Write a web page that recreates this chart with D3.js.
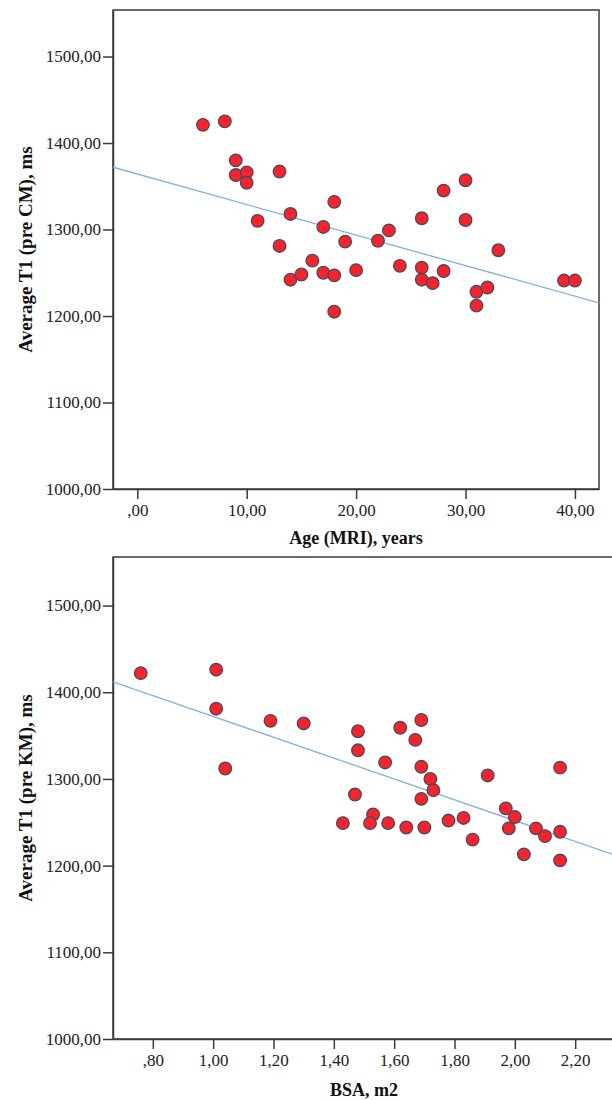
<!DOCTYPE html>
<html>
<head>
<meta charset="utf-8">
<script src="https://cdn.jsdelivr.net/npm/d3@7"></script>
<style>
  html, body { margin: 0; padding: 0; background: #fff; }
  svg { display: block; }
</style>
</head>
<body>
<svg id="chart" width="612" height="1100"></svg>
<script>
// ---------- DATA ----------
// Top panel: Age (MRI), years vs Average T1 (pre CM), ms
const ageValues = [6, 8, 9, 9, 10, 10, 13, 14, 11, 17, 18, 19, 13, 16, 14, 15, 17, 18, 20, 18,
  22, 23, 26, 28, 30, 30, 24, 26, 26, 27, 28, 33, 31, 32, 31, 39, 40];
const t1PreCM = [1421, 1425, 1380, 1363, 1366, 1354, 1367, 1318, 1310, 1303, 1332, 1286, 1281, 1264, 1242, 1248, 1250, 1247, 1253, 1205,
  1287, 1299, 1313, 1345, 1357, 1311, 1258, 1256, 1242, 1238, 1252, 1276, 1228, 1233, 1212, 1241, 1241];

// Bottom panel: BSA, m2 vs Average T1 (pre KM), ms
const bsaValues = [0.76, 1.01, 1.01, 1.04, 1.19, 1.30, 1.48, 1.48, 1.47, 1.43, 1.57, 1.62, 1.69, 1.67, 1.69, 1.72, 1.73, 1.69,
  1.53, 1.52, 1.58, 1.64, 1.70, 1.78, 1.83, 1.86, 1.91, 1.97, 2.00, 1.98, 2.07, 2.10, 2.15, 2.15, 2.03, 2.15];
const t1PreKM = [1422, 1426, 1381, 1312, 1367, 1364, 1355, 1333, 1282, 1249, 1319, 1359, 1368, 1345, 1314, 1300, 1287, 1277,
  1259, 1249, 1249, 1244, 1244, 1252, 1255, 1230, 1304, 1266, 1256, 1243, 1243, 1234, 1239, 1313, 1213, 1206];

// Fit lines (intercept, slope)
const fitAge = [1364.2, -3.53];
const fitBSA = [1492.3, -120.2];

// Tick labels
const yTicks = [1000, 1100, 1200, 1300, 1400, 1500];
const yTickLabels = ["1000,00", "1100,00", "1200,00", "1300,00", "1400,00", "1500,00"];
const ageTicks = [0, 10, 20, 30, 40];
const ageTickLabels = [",00", "10,00", "20,00", "30,00", "40,00"];
const bsaTicks = [0.8, 1.0, 1.2, 1.4, 1.6, 1.8, 2.0, 2.2];
const bsaTickLabels = [",80", "1,00", "1,20", "1,40", "1,60", "1,80", "2,00", "2,20"];

// ---------- DRAWING ----------
const svg = d3.select("#chart");
const FONT = "'Liberation Serif', 'Times New Roman', serif";
const frameColor = "#3a3a3a";
const dotFill = "#f7222b";
const dotStroke = "#4a4a5a";
const lineColor = "#7fb1e1";

function panel(cfg) {
  const g = svg.append("g");
  const x = d3.scaleLinear().domain(cfg.xDomain).range([cfg.left, cfg.right]);
  const y = d3.scaleLinear().domain(cfg.yDomain).range([cfg.bottom, cfg.top]);

  const clipId = "clip-" + cfg.id;
  svg.append("clipPath").attr("id", clipId)
    .append("rect").attr("x", cfg.left).attr("y", cfg.top)
    .attr("width", cfg.right - cfg.left).attr("height", cfg.bottom - cfg.top);

  // frame
  g.append("rect")
    .attr("x", cfg.left).attr("y", cfg.top)
    .attr("width", cfg.right - cfg.left).attr("height", cfg.bottom - cfg.top)
    .attr("fill", "none").attr("stroke", frameColor).attr("stroke-width", 1.5);

  // y axis
  const yAxis = d3.axisLeft(y).tickValues(yTicks)
    .tickFormat((d, i) => yTickLabels[i]).tickSize(10).tickSizeOuter(0).tickPadding(2);
  const ya = g.append("g").attr("transform", `translate(${cfg.left},0)`).call(yAxis);
  ya.select(".domain").attr("stroke", frameColor).attr("stroke-width", 1.5);
  ya.selectAll(".tick line").attr("stroke", frameColor).attr("stroke-width", 1.5);
  ya.selectAll(".tick text").attr("font-family", FONT).attr("font-size", 17).attr("fill", "#222");

  // x axis
  const xAxis = d3.axisBottom(x).tickValues(cfg.xTicks)
    .tickFormat((d, i) => cfg.xTickLabels[i]).tickSize(10).tickSizeOuter(0).tickPadding(5);
  const xa = g.append("g").attr("transform", `translate(0,${cfg.bottom})`).call(xAxis);
  xa.select(".domain").attr("stroke", frameColor).attr("stroke-width", 1.5);
  xa.selectAll(".tick line").attr("stroke", frameColor).attr("stroke-width", 1.5);
  xa.selectAll(".tick text").attr("font-family", FONT).attr("font-size", 17).attr("fill", "#222");

  // fit line
  const plot = g.append("g").attr("clip-path", `url(#${clipId})`);
  const fitLine = d3.line().x(d => x(d)).y(d => y(cfg.fit[0] + cfg.fit[1] * d));
  plot.append("path").datum(cfg.xDomain).attr("d", fitLine)
    .attr("fill", "none").attr("stroke", lineColor).attr("stroke-width", 1.3);

  // points
  plot.selectAll("circle").data(cfg.xs.map((v, i) => [v, cfg.ys[i]]))
    .enter().append("circle")
    .attr("cx", d => x(d[0])).attr("cy", d => y(d[1])).attr("r", 6.3)
    .attr("fill", dotFill).attr("stroke", dotStroke).attr("stroke-width", 1.3);

  // axis titles
  g.append("text")
    .attr("x", cfg.xTitleX).attr("y", cfg.xTitleY)
    .attr("text-anchor", "middle").attr("font-family", FONT)
    .attr("font-weight", "bold").attr("font-size", 18).attr("fill", "#111")
    .text(cfg.xTitle);
  g.append("text")
    .attr("transform", `translate(32,${(cfg.top + cfg.bottom) / 2}) rotate(-90)`)
    .attr("text-anchor", "middle").attr("font-family", FONT)
    .attr("font-weight", "bold").attr("font-size", 19).attr("fill", "#111")
    .text(cfg.yTitle);
}

panel({
  id: "age",
  left: 113, right: 599, top: 10, bottom: 489,
  xDomain: [-2.22, 42.2], yDomain: [1000, 1553.8],
  xTicks: ageTicks, xTickLabels: ageTickLabels,
  xs: ageValues, ys: t1PreCM, fit: fitAge,
  xTitle: "Age (MRI), years", xTitleX: 356, xTitleY: 544,
  yTitle: "Average T1 (pre CM), ms"
});

panel({
  id: "bsa",
  left: 113, right: 615, top: 557, bottom: 1039,
  xDomain: [0.668, 2.332], yDomain: [1000, 1556],
  xTicks: bsaTicks, xTickLabels: bsaTickLabels,
  xs: bsaValues, ys: t1PreKM, fit: fitBSA,
  xTitle: "BSA, m2", xTitleX: 364, xTitleY: 1096,
  yTitle: "Average T1 (pre KM), ms"
});
</script>
</body>
</html>
